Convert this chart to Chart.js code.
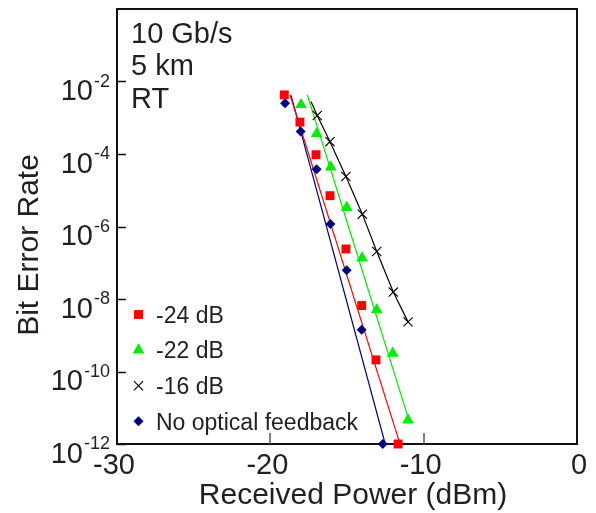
<!DOCTYPE html>
<html>
<head>
<meta charset="utf-8">
<title>BER vs received power</title>
<script src="https://cdn.jsdelivr.net/npm/chart.js@4/dist/chart.umd.min.js"></script>
<style>
  html, body { margin: 0; padding: 0; background: #fff; }
  canvas { display: block; }
</style>
</head>
<body>
<canvas id="berChart" width="596" height="513"></canvas>
<script>
// measured points, received power (dBm) and bit error rate
const powerM24 = [-19.09, -18.07, -17.02, -16.11, -15.07, -14.04, -13.11, -11.67];
const berM24   = [4.27e-3, 7.59e-4, 9.55e-5, 7.08e-6, 2.40e-7, 6.61e-9, 2.09e-10, 1.0e-12];

const powerM22 = [-18.0, -16.98, -16.06, -15.02, -14.02, -13.06, -12.02, -11.02];
const berM22   = [2.29e-3, 3.63e-4, 4.37e-5, 3.31e-6, 1.35e-7, 5.01e-9, 3.16e-10, 4.57e-12];

const powerM16 = [-16.94, -16.11, -15.07, -14.0, -13.06, -11.98, -11.02];
const berM16   = [1.15e-3, 2.19e-4, 2.40e-5, 2.19e-6, 2.04e-7, 1.55e-8, 2.34e-9];

const powerNoFb = [-19.04, -18.02, -16.98, -16.08, -15.02, -14.04, -12.67];
const berNoFb   = [2.51e-3, 4.17e-4, 3.80e-5, 1.17e-6, 6.17e-8, 1.41e-9, 1.0e-12];

// fitted curves
const fitM24Power = [-18.72, -11.58];
const fitM24Ber   = [4.31e-3, 1.13e-12];
const fitM22Power = [-17.59, -11.0];
const fitM22Ber   = [4.31e-3, 5.13e-12];
const fitM16Power = [-17.35, -16.94, -16.11, -15.07, -14.0, -13.06, -11.98, -11.02];
const fitM16Ber   = [2.82e-3, 1.15e-3, 2.19e-4, 2.40e-5, 2.19e-6, 2.04e-7, 1.55e-8, 2.34e-9];
const fitNoFbPower = [-18.65, -12.52];
const fitNoFbBer   = [4.12e-3, 1.05e-12];

const xTickValues = [-30, -20, -10, 0];
const xTickMarks = [-20, -10];
const yTickExps = [-2, -4, -6, -8, -10, -12];
const noteLines = ['10 Gb/s', '5 km', 'RT'];

const FONT = '"Liberation Sans", Arial, Helvetica, sans-serif';
const INK = '#231f20';

function toPoints(xs, ys) {
  return xs.map((x, i) => ({ x: x, y: ys[i] }));
}

function markerSet(label, xs, ys, style, color, radius, border) {
  return {
    label: label,
    data: toPoints(xs, ys),
    pointStyle: style,
    pointRadius: radius,
    pointBackgroundColor: color,
    pointBorderColor: color,
    pointBorderWidth: border,
    showLine: false,
    clip: false,
    order: 0
  };
}

function fitSet(xs, ys, color) {
  return {
    label: '',
    data: toPoints(xs, ys),
    showLine: true,
    borderColor: color,
    borderWidth: 1.2,
    pointRadius: 0,
    fill: false,
    tension: 0,
    order: 1
  };
}

const markerSets = [
  markerSet('-24 dB', powerM24, berM24, 'rect', '#ff0000', 6.3, 0),
  markerSet('-22 dB', powerM22, berM22, 'triangle', '#00ee00', 6.8, 0),
  markerSet('-16 dB', powerM16, berM16, 'crossRot', '#000000', 6.5, 1.1),
  markerSet('No optical feedback', powerNoFb, berNoFb, 'rectRot', '#000080', 5, 0)
];

const fitSets = [
  fitSet(fitM24Power, fitM24Ber, '#ff0000'),
  fitSet(fitM22Power, fitM22Ber, '#00ee00'),
  fitSet(fitM16Power, fitM16Ber, '#000000'),
  fitSet(fitNoFbPower, fitNoFbBer, '#000080')
];

function drawMarker(ctx, ds, x, y) {
  ctx.save();
  ctx.fillStyle = ds.pointBackgroundColor;
  ctx.strokeStyle = ds.pointBorderColor;
  ctx.lineWidth = ds.pointBorderWidth;
  Chart.helpers.drawPoint(ctx, {
    pointStyle: ds.pointStyle,
    radius: ds.pointRadius,
    borderWidth: ds.pointBorderWidth,
    rotation: 0
  }, x, y);
  ctx.restore();
}

// frame, inward ticks, tick labels with superscripts, titles and the legend
const berAxes = {
  id: 'berAxes',
  beforeDatasetsDraw(chart) {
    const ctx = chart.ctx;
    const a = chart.chartArea;
    const xs = chart.scales.x;
    const ys = chart.scales.y;
    ctx.save();
    ctx.strokeStyle = '#111';
    ctx.lineWidth = 2;
    ctx.strokeRect(a.left, a.top, a.right - a.left, a.bottom - a.top);

    ctx.lineWidth = 1.5;
    yTickExps.forEach(e => {
      const y = Math.round(ys.getPixelForValue(Math.pow(10, e))) + 0.5;
      ctx.beginPath();
      ctx.moveTo(a.left, y);
      ctx.lineTo(a.left + 9, y);
      ctx.stroke();
    });
    ctx.strokeStyle = '#555';
    xTickMarks.forEach(v => {
      const x = Math.round(xs.getPixelForValue(v));
      ctx.beginPath();
      ctx.moveTo(x, a.bottom);
      ctx.lineTo(x, a.bottom - 11);
      ctx.stroke();
    });
    ctx.restore();
  },
  afterDraw(chart) {
    const ctx = chart.ctx;
    const a = chart.chartArea;
    const xs = chart.scales.x;
    const ys = chart.scales.y;
    ctx.save();
    ctx.fillStyle = INK;
    ctx.textBaseline = 'alphabetic';

    // y tick labels: 10 with a superscript exponent
    yTickExps.forEach(e => {
      const y = ys.getPixelForValue(Math.pow(10, e));
      const sup = String(e);
      ctx.font = '18px ' + FONT;
      ctx.textAlign = 'right';
      const supRight = 110;
      ctx.fillText(sup, supRight, y + 5);
      const supW = ctx.measureText(sup).width;
      ctx.font = '29px ' + FONT;
      ctx.fillText('10', supRight - supW - 1, y + 18.5);
    });

    // x tick labels
    ctx.font = '29px ' + FONT;
    ctx.textAlign = 'center';
    xTickValues.forEach(v => {
      const x = xs.getPixelForValue(v) + (v < 0 ? -3 : 2);
      ctx.fillText(String(v), x, 474);
    });

    // axis titles
    ctx.font = '30px ' + FONT;
    ctx.fillText('Received Power (dBm)', 353, 504);
    ctx.save();
    ctx.translate(38, 245);
    ctx.rotate(-Math.PI / 2);
    ctx.textAlign = 'center';
    ctx.fillText('Bit Error Rate', 0, 0);
    ctx.restore();

    // conditions note in the top-left corner
    ctx.font = '29px ' + FONT;
    ctx.textAlign = 'left';
    noteLines.forEach((t, i) => {
      ctx.fillText(t, a.left + 14, 43 + i * 32.3);
    });

    // legend
    ctx.font = '23px ' + FONT;
    markerSets.forEach((ds, i) => {
      const y = 314.5 + i * 35.6;
      drawMarker(ctx, ds, 138.5, y);
      ctx.fillStyle = INK;
      ctx.fillText(ds.label, 156, y + 8.3);
    });
    ctx.restore();
  }
};

const ctx = document.getElementById('berChart').getContext('2d');
const berChart = new Chart(ctx, {
  type: 'scatter',
  data: { datasets: markerSets.concat(fitSets) },
  options: {
    responsive: false,
    animation: false,
    layout: { padding: { left: 117, top: 9, right: 19, bottom: 69 } },
    scales: {
      x: { type: 'linear', min: -30, max: 0, display: false },
      y: { type: 'logarithmic', min: 1e-12, max: 1, display: false }
    },
    plugins: {
      legend: { display: false },
      tooltip: { enabled: false }
    }
  },
  plugins: [berAxes]
});
</script>
</body>
</html>
